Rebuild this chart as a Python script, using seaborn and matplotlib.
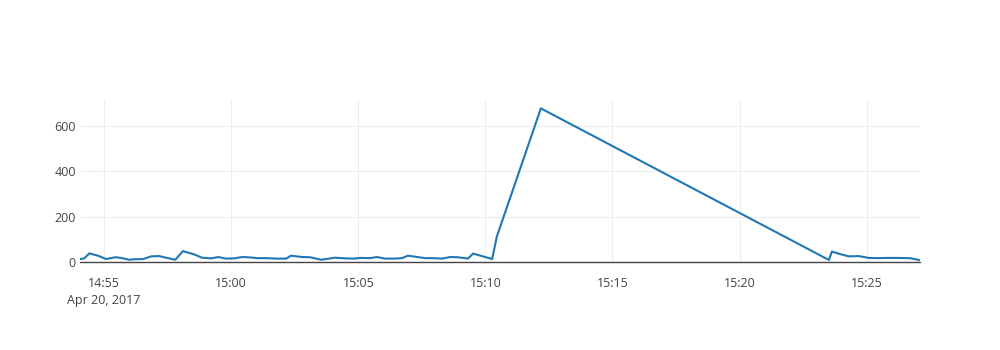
import matplotlib
matplotlib.use("Agg")
import matplotlib.pyplot as plt
import seaborn as sns
import pandas as pd

times = ["14:54:03", "14:54:13", "14:54:25", "14:54:45", "14:55:05", "14:55:26", "14:55:40",
         "14:55:59", "14:56:11", "14:56:32", "14:56:51", "14:57:10", "14:57:26", "14:57:48",
         "14:58:06", "14:58:32", "14:58:51", "14:59:13", "14:59:29", "14:59:48", "15:00:07",
         "15:00:26", "15:00:47", "15:01:01", "15:01:25", "15:01:46", "15:02:10", "15:02:21",
         "15:02:47", "15:03:06", "15:03:32", "15:03:51", "15:04:05", "15:04:29", "15:04:50",
         "15:05:04", "15:05:28", "15:05:44", "15:06:03", "15:06:24", "15:06:43", "15:06:57",
         "15:07:19", "15:07:38", "15:07:56", "15:08:18", "15:08:37", "15:08:55", "15:09:19",
         "15:09:31", "15:09:54", "15:10:16", "15:10:27", "15:12:11", "15:23:31", "15:23:38",
         "15:23:57", "15:24:18", "15:24:42", "15:25:05", "15:25:27", "15:25:48", "15:26:11",
         "15:26:42", "15:27:06"]
values = [13, 16, 38, 28, 13, 21, 18,
          10, 12, 13, 25, 26, 19, 10,
          48, 34, 19, 16, 22, 15, 16,
          22, 20, 17, 17, 15, 15, 28,
          22, 21, 10, 15, 19, 16, 15,
          18, 17, 22, 15, 15, 17, 28,
          22, 17, 17, 15, 22, 21, 15,
          37, 25, 13, 112, 678, 9, 46,
          35, 25, 26, 18, 17, 18, 18,
          17, 8]
date = "2017-04-20"
tick_times = ["14:55", "15:00", "15:05", "15:10", "15:15", "15:20", "15:25"]
tick_labels = ["14:55\nApr 20, 2017", "15:00", "15:05", "15:10", "15:15", "15:20", "15:25"]
y_ticks = [0, 200, 400, 600]

df = pd.DataFrame({"time": pd.to_datetime([f"{date} {t}" for t in times]), "value": values})

sns.set_style("white")
plt.rcParams["font.family"] = ["Open Sans", "DejaVu Sans"]

fig = plt.figure(figsize=(10, 3.5), dpi=100)
ax = fig.add_axes([0.08, (350 - 262) / 350, 0.84, 162 / 350])
ax.axhline(0, color="#444444", linewidth=1, zorder=1.5, clip_on=False)
sns.lineplot(data=df, x="time", y="value", ax=ax, color="#1f77b4", linewidth=1.5, zorder=2)

ax.set_xlim(df["time"].iloc[0], df["time"].iloc[-1])
ax.set_ylim(0, 715)
ax.set_xticks(pd.to_datetime([f"{date} {t}" for t in tick_times]))
ax.set_xticklabels(tick_labels, color="#444444", fontsize=9, linespacing=1.35)
ax.set_yticks(y_ticks)
ax.set_yticklabels([str(v) for v in y_ticks], color="#444444", fontsize=9)
ax.grid(True, color="#eeeeee", linewidth=0.75)
ax.set_axisbelow(True)
for s in ax.spines.values():
    s.set_visible(False)
ax.tick_params(axis="both", length=0)
ax.tick_params(axis="x", pad=11)
ax.tick_params(axis="y", pad=3)
ax.set_xlabel("")
ax.set_ylabel("")
fig.savefig("out.png", dpi=100, facecolor="white")
